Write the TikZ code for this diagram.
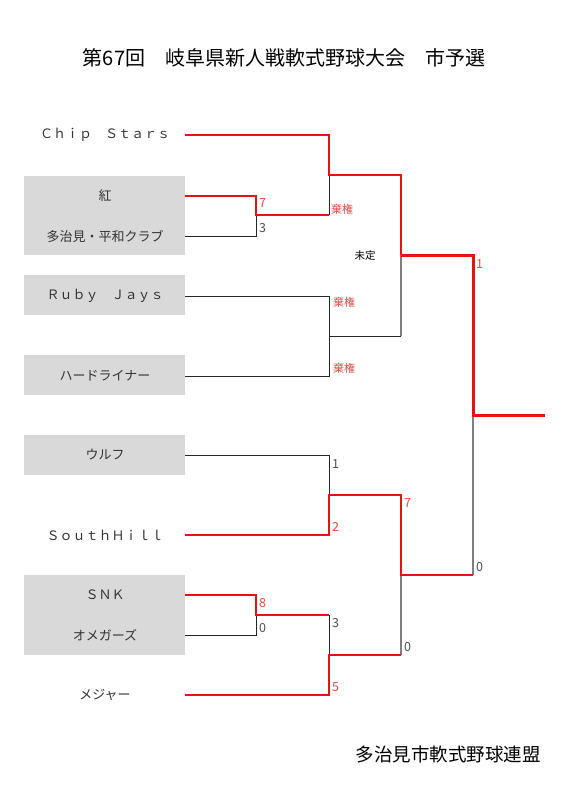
\documentclass[tikz,border=0pt]{standalone}
\usepackage{fontspec}
\setmainfont{Noto Sans CJK JP}
\newfontfamily\jp{Noto Sans CJK JP}
\definecolor{winred}{HTML}{E81010}
\definecolor{labred}{HTML}{E84848}
\definecolor{boxgray}{HTML}{D9D9D9}
\definecolor{losegray}{HTML}{7F7F7F}
\definecolor{labgray}{HTML}{505050}
\tikzset{
  team/.style={font=\jp\fontsize{13}{13}\selectfont, text=black!80, inner sep=0pt, anchor=center},
  win/.style={draw=winred, line width=2pt, line join=miter},
  winfinal/.style={draw=winred, line width=3pt, line join=miter},
  lose/.style={draw=black!85, line width=1pt},
  losev/.style={draw=losegray, line width=1.5pt},
  scr/.style={font=\jp\fontsize{12.5}{12.5}\selectfont, inner sep=0pt, anchor=west},
  redscr/.style={scr, text=labred},
  grayscr/.style={scr, text=labgray},
  kiken/.style={font=\jp\fontsize{11}{11}\selectfont, inner sep=0pt, anchor=west, text=labred},
  teambox/.style={fill=boxgray, draw=none}
}
\begin{document}
\begin{tikzpicture}[x=1pt,y=-1pt]
\useasboundingbox (0,0) rectangle (568,800);
% title
\node[font=\jp\fontsize{20}{20}\selectfont, inner sep=0pt] (title) at (284,58) {第67回　岐阜県新人戦軟式野球大会　市予選};
\node[font=\jp\fontsize{18.5}{18.5}\selectfont, inner sep=0pt, anchor=east] (footer) at (541,754) {多治見市軟式野球連盟};
% boxes
\fill[teambox] (24,176) rectangle (185,255);
\fill[teambox] (24,275) rectangle (185,315);
\fill[teambox] (24,355) rectangle (185,395);
\fill[teambox] (24,435) rectangle (185,475);
\fill[teambox] (24,575) rectangle (185,655);
% teams
\node[team] (cs) at (105,135) {Ｃｈｉｐ　Ｓｔａｒｓ};
\node[team] (kr) at (105,196) {紅};
\node[team] (tj) at (105,236) {多治見・平和クラブ};
\node[team] (rj) at (105,296) {Ｒｕｂｙ　Ｊａｙｓ};
\node[team] (hd) at (105,376) {ハードライナー};
\node[team] (wf) at (105,455) {ウルフ};
\node[team] (sh) at (105,535) {ＳｏｕｔｈＨｉｌｌ};
\node[team] (snk) at (105,595) {ＳＮＫ};
\node[team] (om) at (105,635) {オメガーズ};
\node[team] (mj) at (105,695) {メジャー};
% line starts
\foreach \n/\y in {cs/135,kr/196,tj/236,rj/296,hd/376,wf/455,sh/535,snk/595,om/635,mj/695}
  \coordinate (\n E) at (185,\y);
% junctions
\coordinate (m1) at (256,215);
\coordinate (m2) at (329,175);
\coordinate (m3) at (329,336);
\coordinate (m4) at (401,255);
\coordinate (m5) at (329,495);
\coordinate (m6) at (256,615);
\coordinate (m7) at (329,655);
\coordinate (m8) at (401,575);
\coordinate (fin) at (473,415);
\coordinate (champ) at (545,415);
% loser lines
\draw[lose] (tjE) -| (m1);
\draw[lose] (m1 -| m2) -- (m2);
\draw[lose] (rjE) -| (m3);
\draw[lose] (hdE) -| (m3);
\draw[lose] (m3) -- (m3 -| m4);
\draw[losev] (m3 -| m4) -- (m4);
\draw[lose] (wfE) -| (m5);
\draw[lose] (omE) -| (m6);
\draw[lose] (m6 -| m7) -- (m7);
\draw[losev] (m7 -| m8) -- (m8);
\draw[losev] (m8 -| fin) -- (fin);
% winner lines
\draw[win] (krE) -| (m1) -- (m1 -| m2);
\draw[win] (csE) -| (m2) -| (m4);
\draw[winfinal] (m4) -| (fin) -- (champ);
\draw[win] (shE) -| (m5) -| (m8) -- (m8 -| fin);
\draw[win] (snkE) -| (m6) -- (m6 -| m7);
\draw[win] (mjE) -| (m7) -- (m7 -| m8);
% scores
\node[redscr] (s1) at (259,203) {7};
\node[grayscr] (s2) at (259,228) {3};
\node[kiken] (k1) at (331,209) {棄権};
\node[kiken] (k2) at (333,302) {棄権};
\node[kiken] (k3) at (333,368) {棄権};
\node[font=\jp\fontsize{10.5}{10.5}\selectfont, inner sep=0pt] (mitei) at (365,256) {未定};
\node[redscr] (s3) at (476,264) {1};
\node[grayscr] (s4) at (332,464) {1};
\node[redscr] (s5) at (332,527) {2};
\node[redscr] (s6) at (404,503) {7};
\node[redscr] (s7) at (259,603) {8};
\node[grayscr] (s8) at (259,628) {0};
\node[grayscr] (s9) at (332,623) {3};
\node[redscr] (s10) at (332,687) {5};
\node[grayscr] (s11) at (404,647) {0};
\node[grayscr] (s12) at (476,567) {0};
\end{tikzpicture}
\end{document}
